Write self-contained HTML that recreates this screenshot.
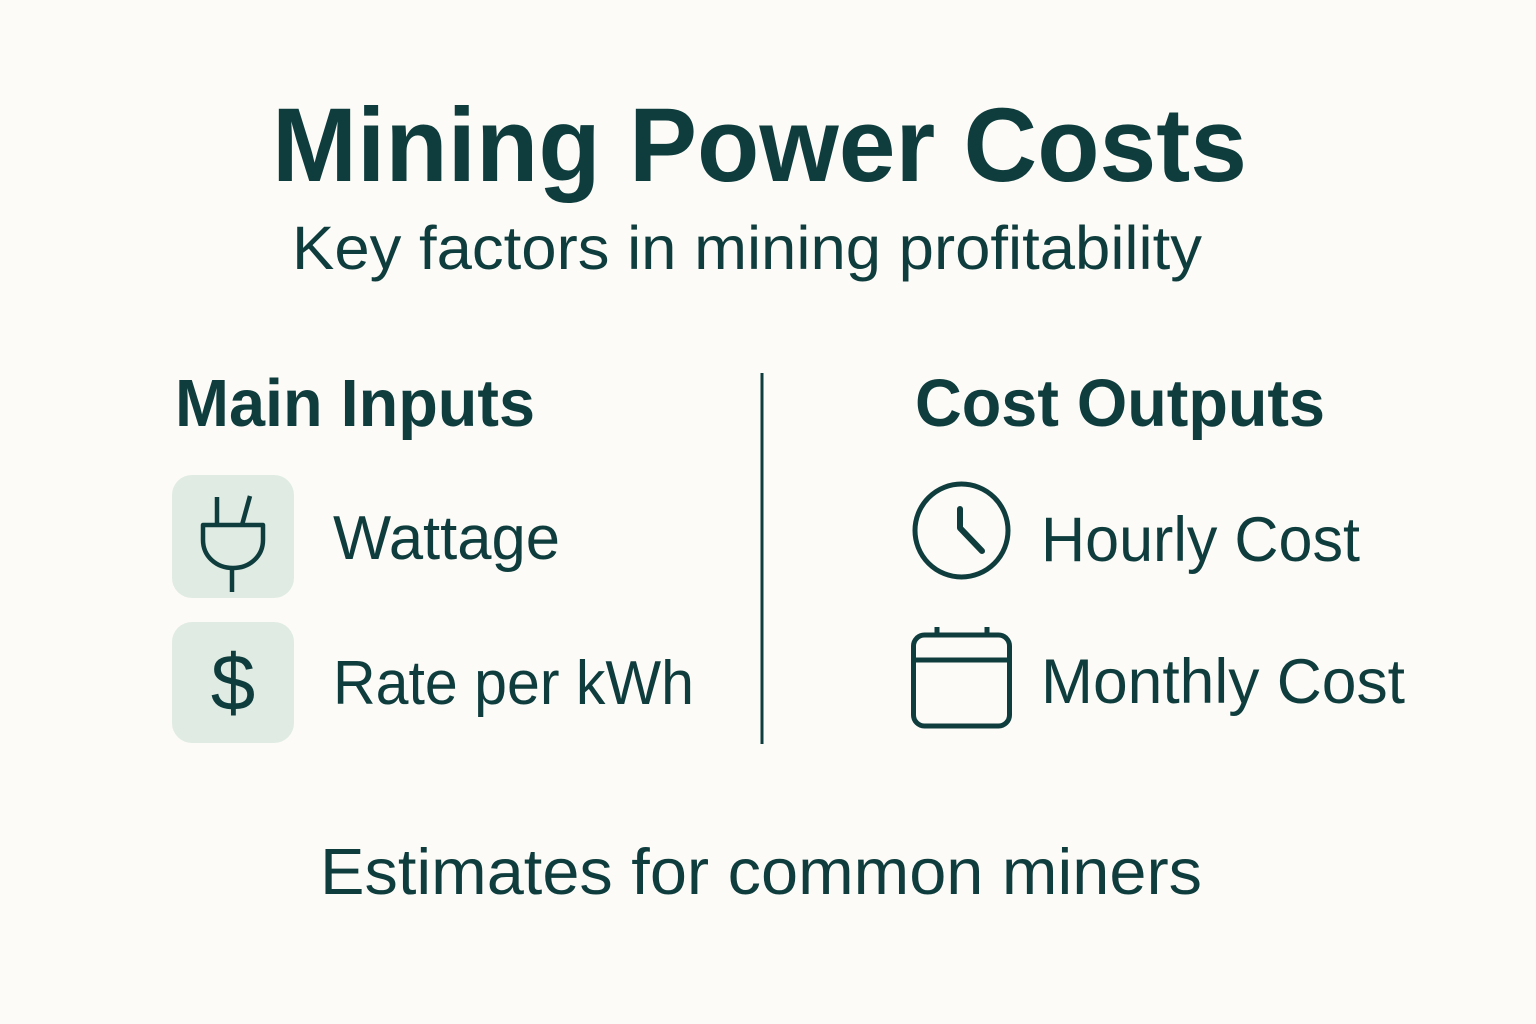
<!DOCTYPE html>
<html>
<head>
<meta charset="utf-8">
<style>
  html, body { margin: 0; padding: 0; background: #fcfbf7; }
  svg { display: block; }
  text { font-family: "Liberation Sans", sans-serif; fill: #0f3d3e; }
</style>
</head>
<body>
<svg width="1536" height="1024" viewBox="0 0 1536 1024" xmlns="http://www.w3.org/2000/svg">
  <rect x="0" y="0" width="1536" height="1024" fill="#fcfbf7"/>

  <!-- Title -->
  <text x="272" y="181" font-size="105" font-weight="bold" textLength="975" lengthAdjust="spacingAndGlyphs">Mining Power Costs</text>
  <text x="292" y="269" font-size="61" textLength="910" lengthAdjust="spacingAndGlyphs">Key factors in mining profitability</text>

  <!-- Section headers -->
  <text x="175" y="426" font-size="67" font-weight="bold" textLength="360" lengthAdjust="spacingAndGlyphs">Main Inputs</text>
  <text x="915" y="426" font-size="67" font-weight="bold" textLength="410" lengthAdjust="spacingAndGlyphs">Cost Outputs</text>

  <!-- Divider -->
  <line x1="762" y1="373" x2="762" y2="744" stroke="#0f3d3e" stroke-width="3"/>

  <!-- Plug box -->
  <rect x="172" y="475" width="122" height="123" rx="20" ry="20" fill="#dfebe3"/>
  <g fill="none" stroke="#0f3d3e" stroke-width="4.5" stroke-linecap="butt" stroke-linejoin="round">
    <line x1="217" y1="497" x2="217" y2="525"/>
    <line x1="250" y1="496" x2="242" y2="525"/>
    <path d="M203 525 L263 525 L263 540 C263 556 250 568 233 568 C216 568 203 556 203 540 Z"/>
    <line x1="232" y1="568" x2="232" y2="592"/>
  </g>

  <!-- Dollar box -->
  <rect x="172" y="622" width="122" height="121" rx="20" ry="20" fill="#dfebe3"/>
  <text x="233" y="710" font-size="80" text-anchor="middle">$</text>

  <!-- Input labels -->
  <text x="333" y="559" font-size="62" textLength="227" lengthAdjust="spacingAndGlyphs">Wattage</text>
  <text x="333" y="704" font-size="62" textLength="361" lengthAdjust="spacingAndGlyphs">Rate per kWh</text>

  <!-- Clock -->
  <g fill="none" stroke="#0f3d3e" stroke-linecap="round" stroke-linejoin="round">
    <circle cx="961.5" cy="530.5" r="46.5" stroke-width="5"/>
    <path d="M960 509 L960 528 L982 551" stroke-width="6"/>
  </g>

  <!-- Calendar -->
  <g fill="none" stroke="#0f3d3e" stroke-width="5" stroke-linejoin="round">
    <rect x="913.5" y="635" width="96" height="91" rx="11" ry="11"/>
    <line x1="913.5" y1="660" x2="1009.5" y2="660"/>
    <line x1="937" y1="627" x2="937" y2="635"/>
    <line x1="987" y1="627" x2="987" y2="635"/>
  </g>

  <!-- Output labels -->
  <text x="1041" y="561" font-size="63" textLength="319" lengthAdjust="spacingAndGlyphs">Hourly Cost</text>
  <text x="1041" y="703" font-size="63" textLength="364" lengthAdjust="spacingAndGlyphs">Monthly Cost</text>

  <!-- Footer -->
  <text x="320" y="894" font-size="65" textLength="882" lengthAdjust="spacingAndGlyphs">Estimates for common miners</text>
</svg>
</body>
</html>
